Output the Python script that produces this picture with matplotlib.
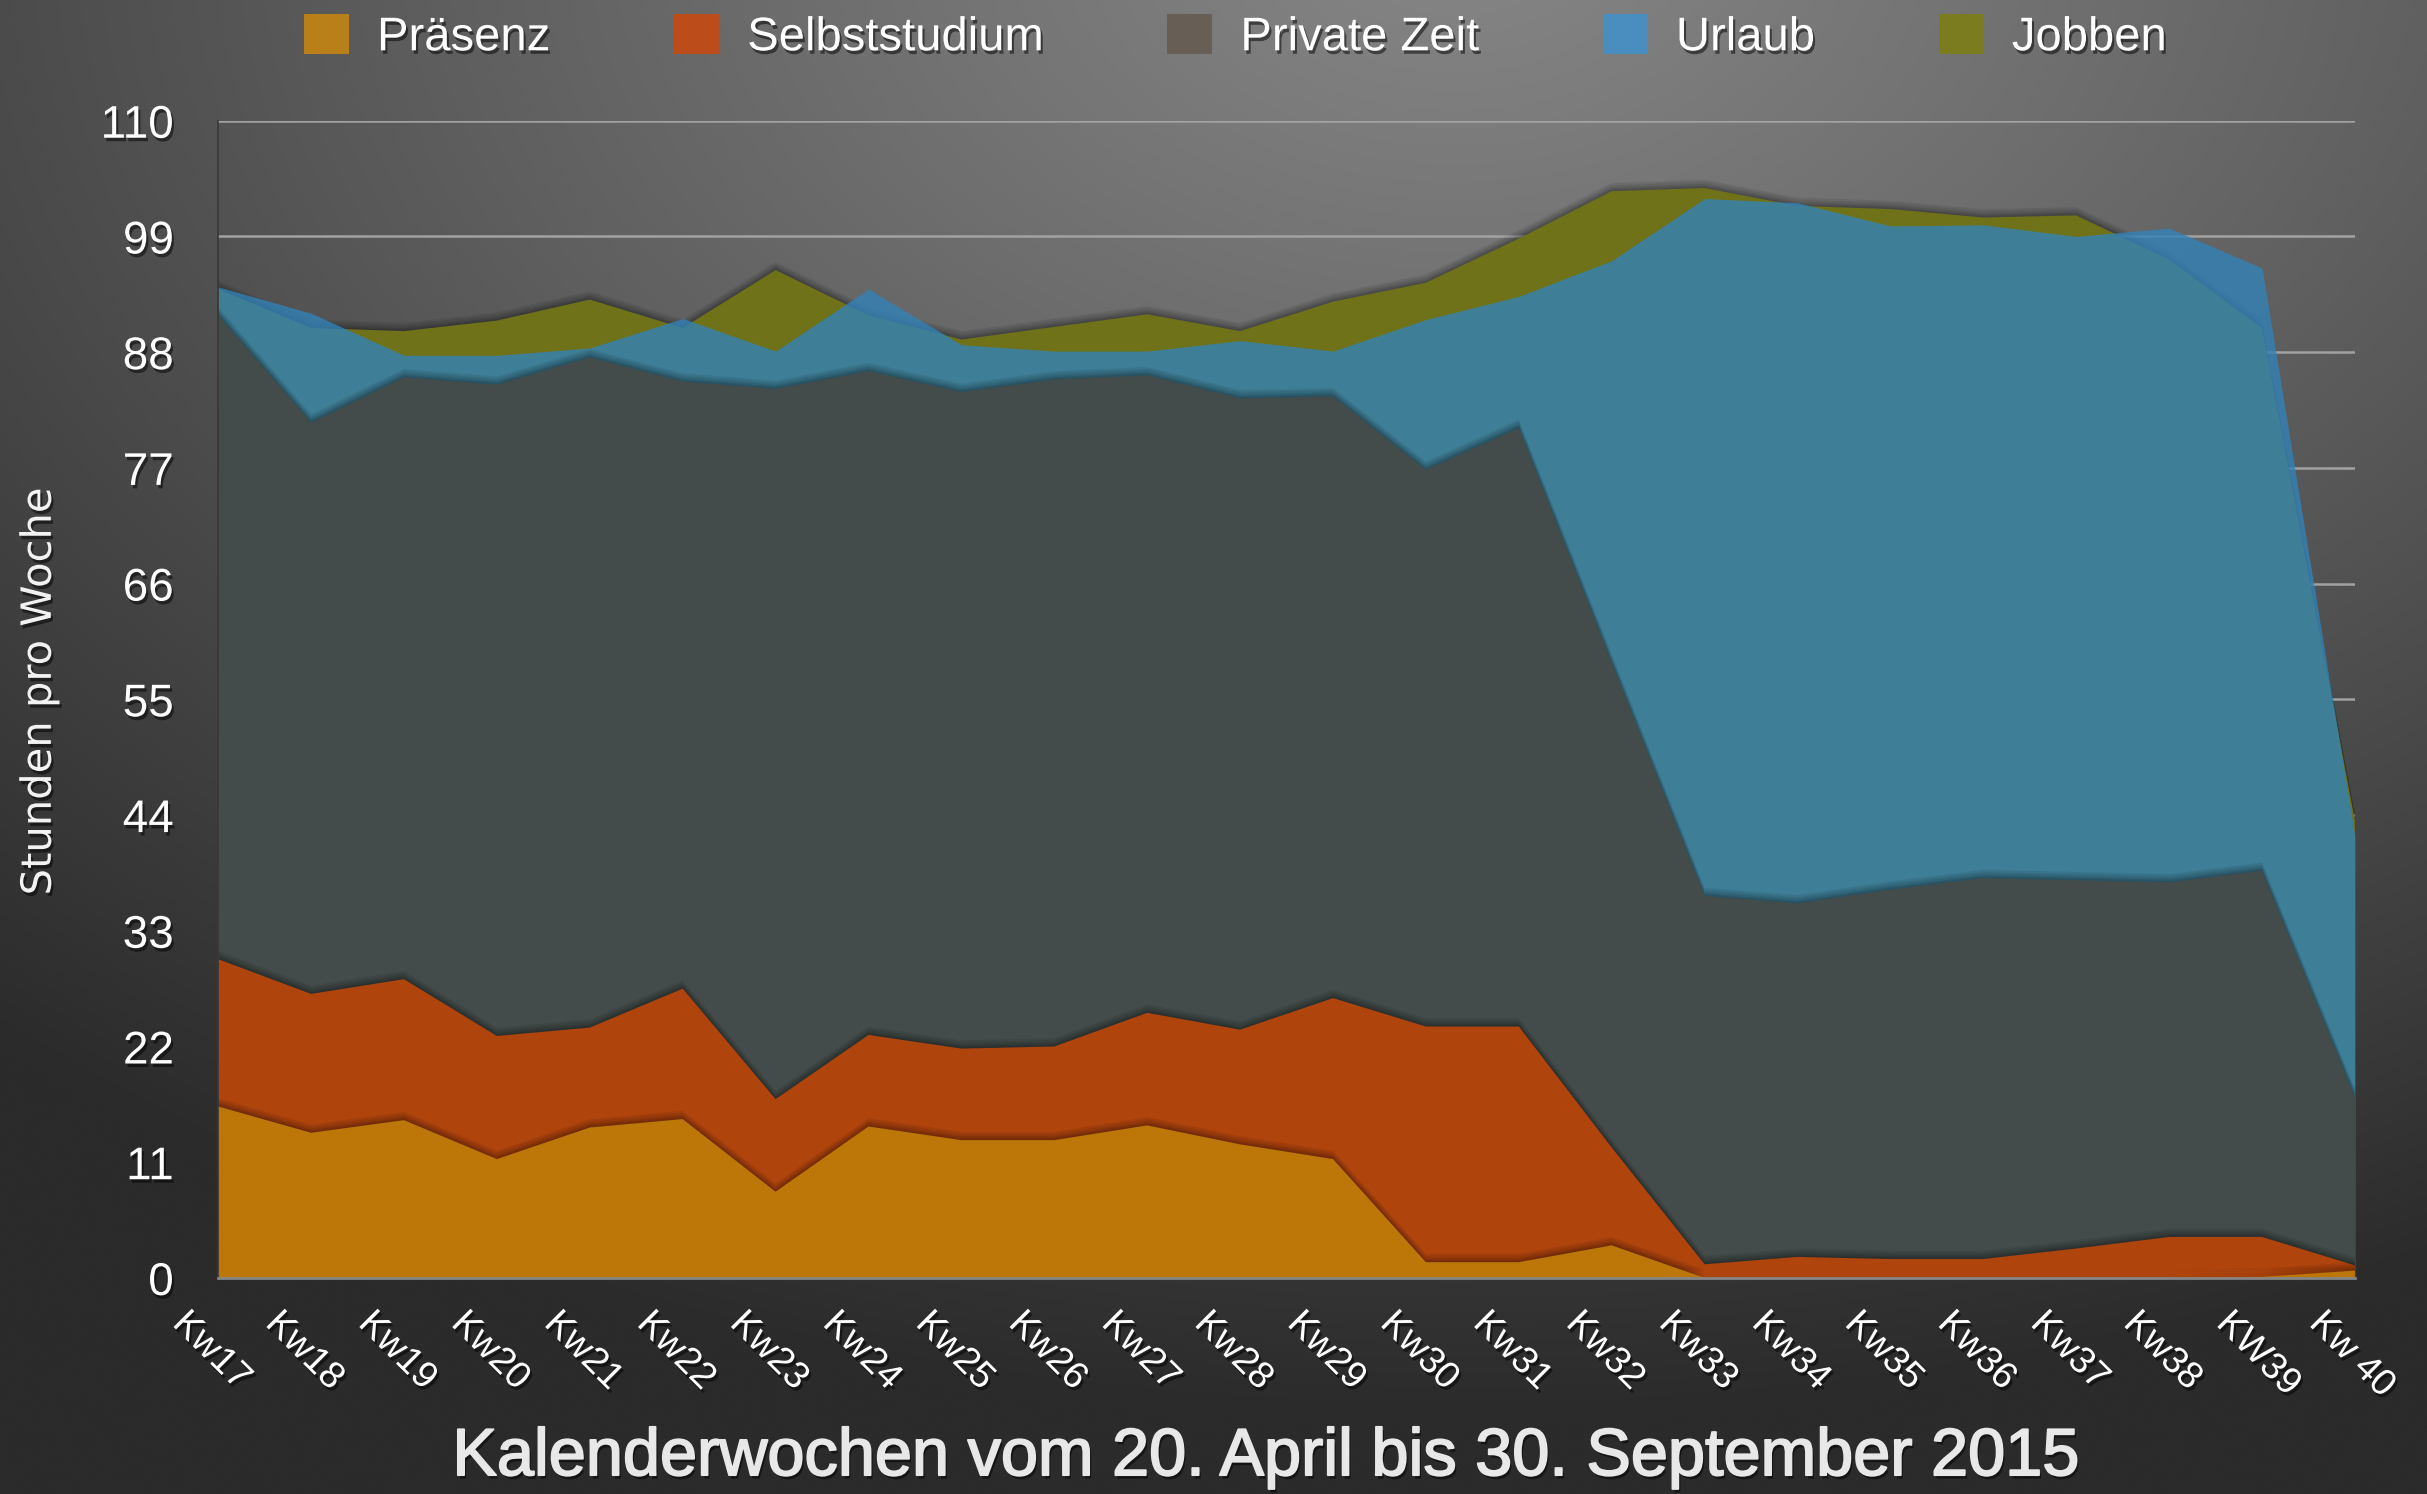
import numpy as np
import matplotlib
matplotlib.use("Agg")
import matplotlib.pyplot as plt
from matplotlib import patheffects as pe
from matplotlib.patches import Patch
from matplotlib.transforms import ScaledTranslation

# data (values as plotted)
weeks = ["Kw17", "Kw18", "Kw19", "Kw20", "Kw21", "Kw22", "Kw23", "Kw24",
         "Kw25", "Kw26", "Kw27", "Kw28", "Kw29", "Kw30", "Kw31", "Kw32",
         "Kw33", "Kw34", "Kw35", "Kw36", "Kw37", "Kw38", "KW39", "Kw 40"]
praesenz = [16.3, 13.8, 15.0, 11.3, 14.3, 15.1, 8.2, 14.4, 13.1, 13.1, 14.5, 12.7,
            11.3, 1.5, 1.5, 3.1, 0, 0, 0, 0, 0, 0, 0.1, 0.7]
selbststudium = [30.3, 27.0, 28.4, 23.0, 23.8, 27.5, 17.0, 23.1, 21.8, 22.0, 25.2, 23.6,
                 26.6, 23.9, 23.9, 12.4, 1.3, 2.0, 1.8, 1.8, 2.8, 3.9, 3.9, 1.2]
private_zeit = [91.5, 81.3, 85.6, 84.9, 87.5, 85.2, 84.5, 86.2, 84.2, 85.4, 85.8, 83.6,
                83.8, 76.8, 80.8, 58.5, 36.3, 35.6, 36.9, 38.0, 37.8, 37.6, 38.7, 17.2]
urlaub = [94.2, 91.7, 87.7, 87.7, 88.4, 91.2, 88.1, 94.0, 88.7, 88.1, 88.1, 89.1,
          88.1, 91.1, 93.3, 96.7, 102.6, 102.2, 100.0, 100.1, 99.0, 99.8, 96.0, 42.0]
jobben = [94.0, 90.3, 90.0, 91.0, 93.0, 90.3, 95.8, 91.5, 89.2, 90.4, 91.6, 90.0,
          92.8, 94.6, 98.8, 103.3, 103.6, 101.9, 101.6, 100.8, 101.0, 96.8, 90.3, 43.5]
y_ticks = list(range(0, 111, 11))

legend_labels = ["Präsenz", "Selbststudium", "Private Zeit", "Urlaub", "Jobben"]
legend_colors = ["#b9801a", "#bc4c1a", "#675f56", "#4a8ebf", "#7b7b1f"]

fig = plt.figure(figsize=(24.27, 14.94), dpi=100)

# radial grey background
bg = fig.add_axes([0, 0, 1, 1], zorder=-10)
bg.axis("off")
yy, xx = np.mgrid[0:1:300j, 0:1:490j]
d = np.sqrt(((xx - 0.6) / 0.9) ** 2 + ((yy + 0.05) / 1.0) ** 2)
t = np.clip(d, 0, 1) ** 1.1
light, dark = 0x86 / 255, 0x2b / 255
img = light * (1 - t) + dark * t
bg.imshow(np.dstack([img, img, img]), aspect="auto", extent=[0, 1, 0, 1],
          origin="upper", interpolation="bicubic")

ax = fig.add_axes([0.0899, 0.1446, 0.9703 - 0.0899, 0.9192 - 0.1446])
ax.set_facecolor("none")
x = np.arange(len(weeks))

shadow = [pe.SimplePatchShadow(offset=(0, k), shadow_rgbFace="black", alpha=0.08)
          for k in (1, 2, 3, 4.5, 6)] + [pe.Normal()]

f = ax.fill_between(x, jobben, color="#6f7219", lw=0, zorder=2)
f.set_path_effects(shadow)
ax.fill_between(x, urlaub, color="#3282b8", alpha=0.8, lw=0, zorder=3)
for vals, col, z in [(private_zeit, "#434c4a", 4),
                     (selbststudium, "#b0440d", 5),
                     (praesenz, "#bc7708", 6)]:
    f = ax.fill_between(x, vals, color=col, lw=0, zorder=z)
    f.set_path_effects(shadow)

ax.set_xlim(0, len(weeks) - 1)
ax.set_ylim(0, 110)
ax.set_axisbelow(True)
ax.yaxis.grid(True, color="#a2a2a2", lw=1.8)
ax.xaxis.grid(False)
for s in ["top", "right"]:
    ax.spines[s].set_visible(False)
ax.spines["bottom"].set_color("#858585")
ax.spines["bottom"].set_linewidth(2)
ax.spines["bottom"].set_zorder(10)
ax.spines["left"].set_color("#383838")
ax.spines["left"].set_linewidth(1.2)
ax.spines["left"].set_zorder(10)

txt_shadow = [pe.withSimplePatchShadow(offset=(1.5, -2.5), shadow_rgbFace="black", alpha=0.5)]

ax.set_yticks(y_ticks)
ax.tick_params(axis="y", length=0, pad=32, labelsize=33, labelcolor="white")
for lab in ax.get_yticklabels():
    lab.set_fontfamily("Liberation Sans")
    lab.set_path_effects(txt_shadow)

ax.set_xticks(x)
ax.set_xticklabels(weeks, rotation=-45, ha="left", va="top", rotation_mode="anchor",
                   fontsize=27, color="white", fontfamily="Liberation Sans")
ax.tick_params(axis="x", length=0, pad=0)
off = ScaledTranslation(-0.27, -0.27, fig.dpi_scale_trans)
for lab in ax.get_xticklabels():
    lab.set_transform(lab.get_transform() + off)
    lab.set_path_effects(txt_shadow)

fig.text(0.016, 0.537, "Stunden pro Woche", rotation=90, ha="center", va="center",
         fontsize=30, color="#f2f2f2", fontfamily="DejaVu Sans", path_effects=txt_shadow)
fig.text(0.5217, 0.024, "Kalenderwochen vom 20. April bis 30. September 2015",
         ha="center", va="center", fontsize=48, color="#e8e8e8",
         fontfamily="Liberation Sans",
         path_effects=[pe.withSimplePatchShadow(offset=(1.5, -2.5), shadow_rgbFace="black",
                                                alpha=0.5),
                       pe.withStroke(linewidth=1.3, foreground="#e8e8e8")])

handles = [Patch(facecolor=c, edgecolor="none") for c in legend_colors]
leg = fig.legend(handles, legend_labels, loc="center", bbox_to_anchor=(0.509, 0.975),
                 ncol=5, frameon=False, handlelength=0.95, handleheight=0.9,
                 handletextpad=0.6, columnspacing=2.62, labelcolor="white",
                 prop={"family": "Liberation Sans", "size": 34})
for tx in leg.get_texts():
    tx.set_path_effects(txt_shadow)

fig.savefig("out.png", dpi=100)
